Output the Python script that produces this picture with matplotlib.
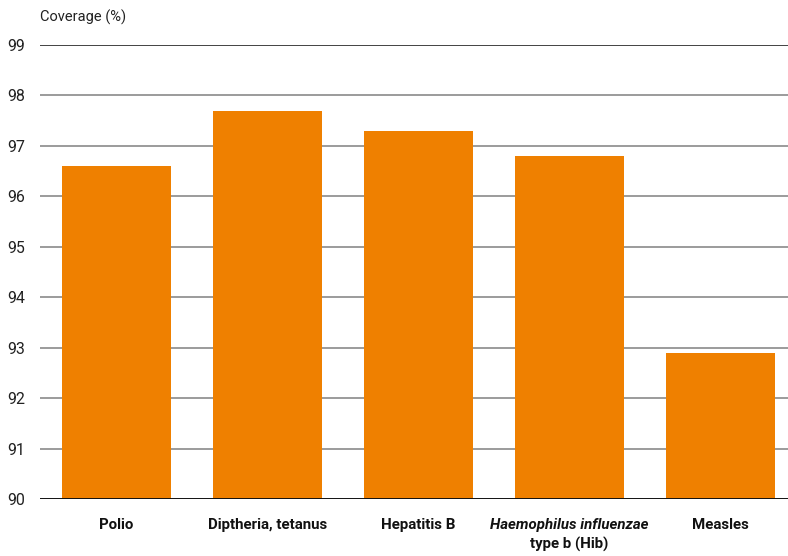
import matplotlib.pyplot as plt
import matplotlib.transforms as mtransforms
from matplotlib import font_manager

names = set(f.name for f in font_manager.fontManager.ttflist)
fam = ['Liberation Sans Narrow'] if 'Liberation Sans Narrow' in names else ['Roboto']
plt.rcParams['font.family'] = fam + ['DejaVu Sans']

categories = ['Polio', 'Diptheria, tetanus', 'Hepatitis B', 'Hib', 'Measles']
coverage = [96.6, 97.7, 97.3, 96.8, 92.9]
yticks = [90, 91, 92, 93, 94, 95, 96, 97, 98, 99]

fig = plt.figure(figsize=(7.88, 5.56), dpi=100)
ax = fig.add_axes([40/788, 1-499/556, 748/788, 454/556])

x = list(range(len(categories)))
ax.bar(x, [c - 90 for c in coverage], bottom=90, width=0.72, color='#ef8000', zorder=3)

ax.set_ylim(90, 99)
ax.set_xlim(-0.507, 4.447)
ax.set_yticks(yticks)
for y in yticks[1:-1]:
    ax.axhline(y, color='#8a8a8a', lw=1.2, zorder=1)
ax.axhline(99, color='#222222', lw=1.2, zorder=1)
ax.axhline(90, color='#111111', lw=1.4, zorder=4)

for s in ax.spines.values():
    s.set_visible(False)
ax.tick_params(axis='y', length=0, pad=10.5, labelsize=11.5, labelcolor='#222222')
ax.tick_params(axis='x', length=0)
ax.set_xticks([])

trans = mtransforms.blended_transform_factory(ax.transData, ax.transAxes)
for i, c in enumerate(categories):
    if c == 'Hib':
        ax.text(i, -0.057, 'Haemophilus influenzae', transform=trans, ha='center', va='center',
                fontsize=10.8, fontweight='bold', fontstyle='italic', color='#111111')
        ax.text(i, -0.101, 'type b (Hib)', transform=trans, ha='center', va='center',
                fontsize=10.8, fontweight='bold', color='#111111')
    else:
        ax.text(i, -0.057, c, transform=trans, ha='center', va='center',
                fontsize=10.8, fontweight='bold', color='#111111')

fig.text(40/788, 1-17/556, 'Coverage (%)', ha='left', va='center', fontsize=10.5, color='#222222')

fig.savefig('out.png', dpi=100)
